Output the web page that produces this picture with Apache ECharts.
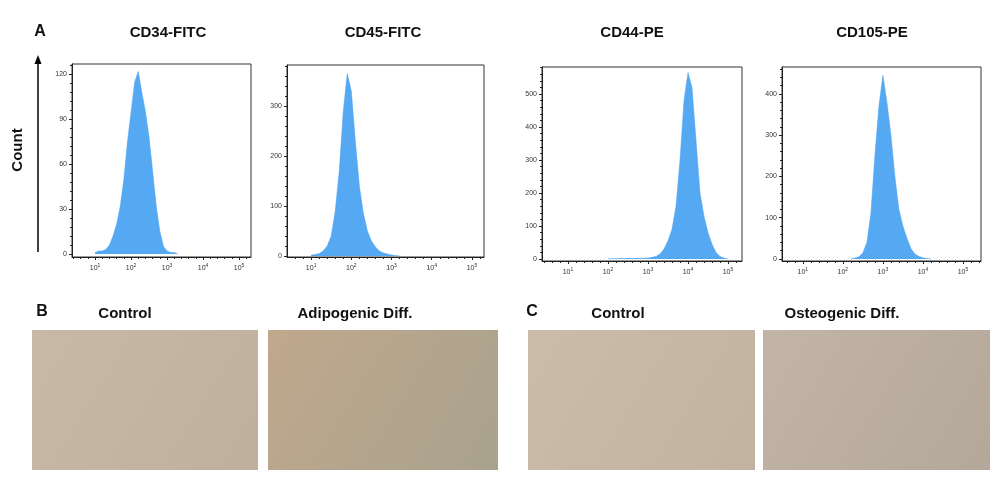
<!DOCTYPE html>
<html><head><meta charset="utf-8">
<script src="https://cdn.jsdelivr.net/npm/echarts@6/dist/echarts.min.js"></script>
<style>html,body{margin:0;background:#fff}#c{width:1000px;height:481px}</style>
</head><body><div id="c"></div>
<script>
const titles = ["CD34-FITC","CD45-FITC","CD44-PE","CD105-PE"];
// bin positions are log10(fluorescence)
const x1 = [1.0,1.1,1.2,1.3,1.4,1.5,1.6,1.7,1.8,1.9,2.0,2.1,2.2,2.3,2.4,2.5,2.6,2.7,2.8,2.9,3.0,3.1,3.2,3.3];
const y1 = [1,2,2,3,6,12,20,32,50,75,95,115,122,108,95,78,55,32,15,5,2,1,1,0];
const x2 = [1.0,1.1,1.2,1.3,1.4,1.5,1.6,1.7,1.8,1.9,2.0,2.1,2.2,2.3,2.4,2.5,2.6,2.7,2.8,2.9,3.0,3.1,3.2];
const y2 = [2,3,5,10,20,40,90,170,290,365,330,230,140,85,50,30,18,10,6,4,2,1,0];
const x3 = [2.0,2.5,2.9,3.0,3.1,3.2,3.3,3.4,3.5,3.6,3.7,3.8,3.9,4.0,4.1,4.2,4.3,4.4,4.5,4.6,4.7,4.8,4.9,5.0];
const y3 = [1,2,2,3,5,8,15,30,55,90,160,300,480,565,520,360,200,130,80,45,20,8,3,0];
const x4 = [2.2,2.3,2.4,2.5,2.6,2.7,2.8,2.9,3.0,3.1,3.2,3.3,3.4,3.5,3.6,3.7,3.8,3.9,4.0,4.1,4.2];
const y4 = [0,2,5,15,40,110,250,370,445,380,300,200,120,80,50,25,12,6,3,1,0];
const yTicks = [[0,30,60,90,120],[0,100,200,300],[0,100,200,300,400,500],[0,100,200,300,400]];
const xTicks = [1,2,3,4,5];

const xs=[x1,x2,x3,x4], ys=[y1,y2,y3,y4];
const grids=[{left:72,top:64,width:179,height:193},{left:287,top:65,width:197,height:192},{left:542,top:67,width:200,height:194},{left:782,top:67,width:199,height:194}];
const xr=[[0.36,5.33],[0.4,5.3],[0.35,5.35],[0.48,5.45]];
const yr=[[-2,127],[-2,382],[-6,582],[-5,465]];
const chart=echarts.init(document.getElementById('c'));
const opt={animation:false,grid:[],xAxis:[],yAxis:[],series:[],graphic:[]};
for(let i=0;i<4;i++){
  opt.grid.push(Object.assign({show:true,borderColor:'#333',borderWidth:1,backgroundColor:'#fff'},grids[i]));
  opt.xAxis.push({type:'value',gridIndex:i,min:xr[i][0],max:xr[i][1],splitLine:{show:false},
    axisLine:{onZero:false,lineStyle:{color:'#222'}},
    axisTick:{customValues:xTicks,length:3,lineStyle:{color:'#222'}},
    minorTick:{show:true,splitNumber:5,length:2},
    axisLabel:{customValues:xTicks,fontSize:7,color:'#333',margin:6,formatter:v=>'10{s|'+v+'}',rich:{s:{fontSize:5,verticalAlign:'top',padding:[0,0,5,0]}}}});
  opt.yAxis.push({type:'value',gridIndex:i,min:yr[i][0],max:yr[i][1],splitLine:{show:false},
    axisLine:{onZero:false,lineStyle:{color:'#222'}},
    axisTick:{customValues:yTicks[i],length:3},minorTick:{show:true,splitNumber:5,length:2},
    axisLabel:{customValues:yTicks[i],fontSize:7,color:'#333',margin:5}});
  opt.series.push({type:'line',xAxisIndex:i,yAxisIndex:i,symbol:'none',lineStyle:{width:0.5,color:'#4aa0f0'},
    areaStyle:{color:'#55a9f3',opacity:1},data:xs[i].map((x,j)=>[x,ys[i][j]])});
}
const tx=(t,x,y,s,extra)=>Object.assign({type:'text',x:x,y:y,style:{text:t,font:'bold '+s+'px Arial, Liberation Sans',fill:'#111',textAlign:'center',textVerticalAlign:'middle'}},extra||{});
const tc=[168,383,632,872];
titles.forEach((t,i)=>opt.graphic.push(tx(t,tc[i],33,15)));
opt.graphic.push(tx('A',40,32,16));
opt.graphic.push(tx('Count',18,150,15,{rotation:Math.PI/2}));
opt.graphic.push({type:'line',shape:{x1:38,y1:252,x2:38,y2:62},style:{stroke:'#000',lineWidth:1.5}});
opt.graphic.push({type:'polygon',shape:{points:[[38,55],[34.5,64],[41.5,64]]},style:{fill:'#000'}});
opt.graphic.push(tx('B',42,312,16),tx('Control',125,314,15),tx('Adipogenic Diff.',355,314,15),tx('C',532,312,16),tx('Control',618,314,15),tx('Osteogenic Diff.',842,314,15));
const imgs=[[32,226,'#c8b9a7','#bfb09d'],[268,230,'#c0a88c','#a9a28e'],[528,227,'#cbbcaa','#c2b3a1'],[763,227,'#c2b4a6','#b4a89a']];
imgs.forEach(m=>opt.graphic.push({type:'rect',shape:{x:m[0],y:330,width:m[1],height:140},style:{fill:new echarts.graphic.LinearGradient(0,0,1,1,[{offset:0,color:m[2]},{offset:1,color:m[3]}])}}));
chart.setOption(opt);
</script></body></html>
